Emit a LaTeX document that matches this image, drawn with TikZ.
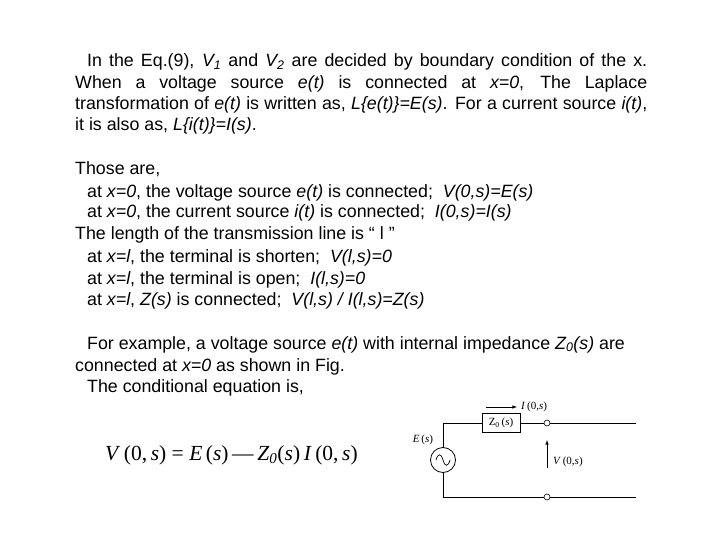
\documentclass[tikz,border=0pt]{standalone}
\usepackage{fontspec}
\setmainfont{Liberation Sans}
\newfontfamily\serif{Liberation Serif}
\begin{document}
\begin{tikzpicture}[x=1pt,y=-1pt,
  txt/.style={anchor=base west,inner sep=0pt,font=\fontsize{17.8}{23}\selectfont},
  lbl/.style={inner sep=0pt,font=\serif\fontsize{11}{13}\selectfont},
  wire/.style={line width=0.8pt},
  term/.style={circle,draw,fill=white,inner sep=0pt,minimum size=6pt,line width=0.6pt}]
\useasboundingbox (0,0) rectangle (720,540);
\node[txt] (p1) at (75,67) {\makebox[572pt][s]{\hspace*{12pt}In the Eq.(9), \textit{V\textsubscript{1}} and \textit{V\textsubscript{2}} are decided by boundary condition of the x.}};
\node[txt] (p2) at (75,89) {\makebox[572pt][s]{When a voltage source \textit{e(t)} is connected at \textit{x=0}, The Laplace}};
\node[txt] (p3) at (75,110) {\makebox[572pt][s]{transformation of \textit{e(t)} is written as, \textit{L\{e(t)\}=E(s)}. For a current source \textit{i(t)},}};
\node[txt] (p4) at (75,131) {it is also as, \textit{L\{i(t)\}=I(s)}.};
\node[txt] (l1) at (75,175) {Those are,};
\node[txt] (l2) at (87,197) {at \textit{x=0}, the voltage source \textit{e(t)} is connected;\ \ \textit{V(0,s)=E(s)}};
\node[txt] (l3) at (87,218) {at \textit{x=0}, the current source \textit{i(t)} is connected;\ \ \textit{I(0,s)=I(s)}};
\node[txt] (l4) at (75,240) {The length of the transmission line is “ l ”};
\node[txt] (l5) at (87,262) {at \textit{x=l}, the terminal is shorten;\ \ \textit{V(l,s)=0}};
\node[txt] (l6) at (87,284) {at \textit{x=l}, the terminal is open;\ \ \textit{I(l,s)=0}};
\node[txt] (l7) at (87,305) {at \textit{x=l}, \textit{Z(s)} is connected;\ \ \textit{V(l,s) / I(l,s)=Z(s)}};
\node[txt] (l8) at (87,349) {For example, a voltage source \textit{e(t)} with internal impedance \textit{Z\textsubscript{0}(s)} are};
\node[txt] (l9) at (75,371) {connected at \textit{x=0} as shown in Fig.};
\node[txt] (l10) at (87,392) {The conditional equation is,};
\node[anchor=base west,inner sep=0pt,font=\serif\fontsize{21.5}{24}\selectfont] (eq) at (105,460)
{\textit{V}\,(0,\,\textit{s}) = \textit{E}\,(\textit{s})\,—\,\textit{Z}\textsubscript{\textit{0}}(\textit{s})\,\textit{I}\,(0,\,\textit{s})};
% circuit
\node[circle,draw,wire,minimum size=25pt,inner sep=0pt] (src) at (443,460) {};
\draw[line width=0.7pt] (436,460) .. controls (438,453) and (441,453) .. (443,460) .. controls (445,467) and (448,467) .. (450,460);
\node[draw,wire,minimum width=38pt,minimum height=19pt,inner sep=0pt,font=\serif\fontsize{11}{13}\selectfont] (z) at (501,423) {Z\textsubscript{0}\,(\textit{s})};
\node[term] (t1) at (547,423) {};
\node[term] (t2) at (547,497) {};
\coordinate (r1) at (636,423);
\coordinate (r2) at (636,497);
\draw[wire] (src.north) |- (z.west);
\draw[wire] (z.east) -- (t1) -- (r1);
\draw[wire] (src.south) |- (t2) -- (r2);
\coordinate (ia) at (486,407); \coordinate (ib) at (517,407);
\draw[-latex,line width=0.6pt] (ia) -- (ib);
\node[lbl,anchor=west] (il) at (521,407) {\textit{I}\,(0,\textit{s})};
\coordinate (va) at (547,468); \coordinate (vb) at (547,440);
\draw[-latex,line width=0.6pt] (va) -- (vb);
\node[lbl,anchor=west] (vl) at (553,462) {\textit{V}\,(0,\textit{s})};
\node[lbl] (el) at (423,440) {\textit{E}\,(\textit{s})};
\end{tikzpicture}
\end{document}
